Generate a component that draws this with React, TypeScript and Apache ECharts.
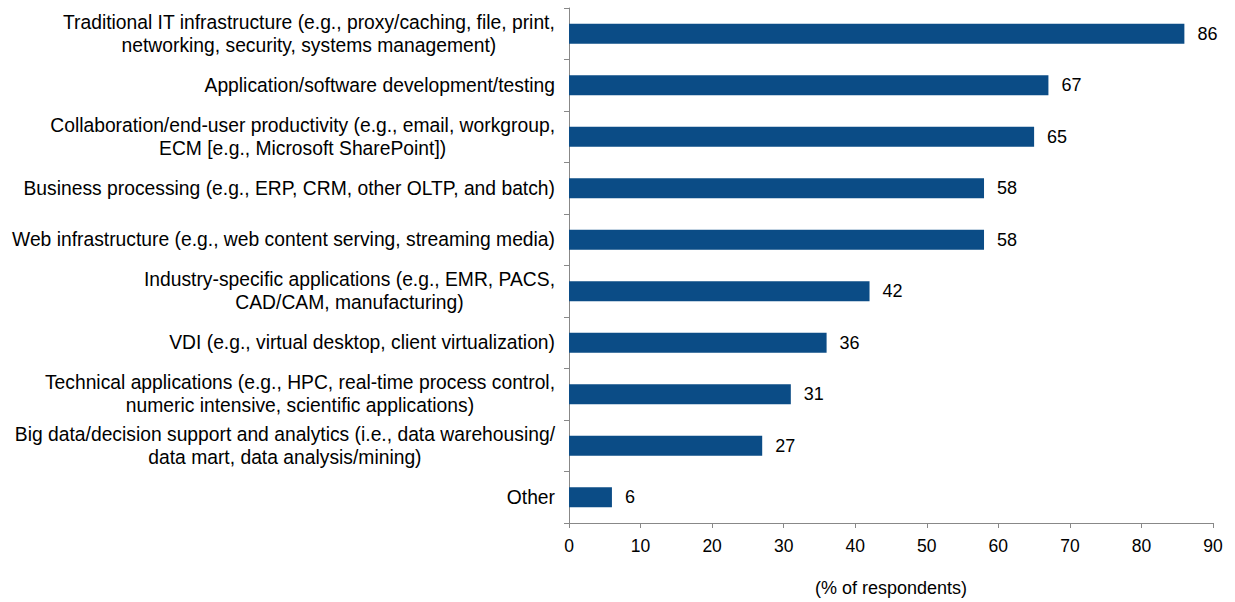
import React, { useEffect, useRef } from "react";
import * as echarts from "echarts";

const categories = [
  "Traditional IT infrastructure (e.g., proxy/caching, file, print,\nnetworking, security, systems management)",
  "Application/software development/testing",
  "Collaboration/end-user productivity (e.g., email, workgroup,\nECM [e.g., Microsoft SharePoint])",
  "Business processing (e.g., ERP, CRM, other OLTP, and batch)",
  "Web infrastructure (e.g., web content serving, streaming media)",
  "Industry-specific applications (e.g., EMR, PACS,\nCAD/CAM, manufacturing)",
  "VDI (e.g., virtual desktop, client virtualization)",
  "Technical applications (e.g., HPC, real-time process control,\nnumeric intensive, scientific applications)",
  "Big data/decision support and analytics (i.e., data warehousing/\ndata mart, data analysis/mining)",
  "Other",
];
const values = [86, 67, 65, 58, 58, 42, 36, 31, 27, 6];
const axisName = "(% of respondents)";

export default function App() {
  const ref = useRef<HTMLDivElement>(null);
  useEffect(() => {
    document.body.style.margin = "0";
    document.body.style.overflow = "hidden";
    const chart = echarts.init(ref.current!, null, { renderer: "svg" });
    const font = "Liberation Sans, Arial, sans-serif";
    chart.setOption({
      animation: false,
      textStyle: { fontFamily: font },
      grid: { left: 569, right: 22, top: 8, bottom: 71, containLabel: false },
      xAxis: {
        type: "value",
        min: 0,
        max: 90,
        interval: 10,
        name: axisName,
        nameLocation: "middle",
        nameGap: 56,
        nameTextStyle: { color: "#000", fontSize: 18, fontFamily: font },
        axisLine: { show: true, lineStyle: { color: "#888", width: 1 } },
        axisTick: { show: true, length: 5, lineStyle: { color: "#888" } },
        axisLabel: { color: "#000", fontSize: 17.5, margin: 14, fontFamily: font },
        splitLine: { show: false },
      },
      yAxis: {
        type: "category",
        inverse: true,
        data: categories,
        axisLine: { show: true, lineStyle: { color: "#888", width: 1 } },
        axisTick: { show: true, length: 5, alignWithLabel: false, lineStyle: { color: "#888" } },
        axisLabel: {
          color: "#000",
          fontSize: 19.3,
          margin: 14,
          lineHeight: 23,
          align: "right",
          fontFamily: font,
          formatter: (v: string) =>
            v
              .split("\n")
              .map((l) => `{c|${l}}`)
              .join("\n"),
          rich: {
            c: {
              align: "center",
              color: "#000",
              fontSize: 19.3,
              lineHeight: 23,
              fontFamily: font,
            },
          },
        },
      },
      series: [
        {
          type: "bar",
          data: values,
          barWidth: 20,
          itemStyle: { color: "#0B4C86" },
          label: {
            show: true,
            position: "right",
            distance: 13,
            color: "#000",
            fontSize: 18,
            fontFamily: font,
          },
        },
      ],
    });
    return () => chart.dispose();
  }, []);
  return <div ref={ref} style={{ width: 1235, height: 602 }} />;
}
